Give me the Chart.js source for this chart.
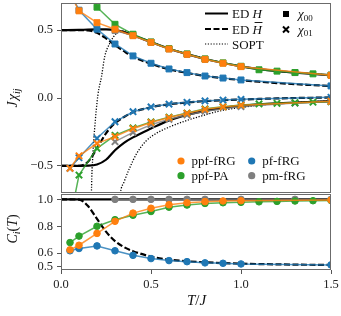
<!DOCTYPE html>
<html>
<head>
<meta charset="utf-8">
<script src="https://cdn.jsdelivr.net/npm/chart.js@4/dist/chart.umd.min.js"></script>
<style>
html, body { margin: 0; padding: 0; background: #fff; }
#top { position: absolute; left: 0; top: 0; width: 341px; height: 194px; }
#bot { position: absolute; left: 0; top: 193px; width: 341px; height: 123px; }
</style>
</head>
<body>
<div id="top"><canvas id="chiChart"></canvas></div>
<div id="bot"><canvas id="cChart"></canvas></div>
<script>
// temperatures of the fRG / PA runs
var tFull = [0.05, 0.1, 0.2, 0.3, 0.4, 0.5, 0.6, 0.7, 0.8, 0.9, 1.0, 1.1, 1.2, 1.3, 1.4, 1.5];
var tPart = [0.05, 0.1, 0.2, 0.3, 0.4, 0.5, 0.6, 0.7, 0.8, 0.9, 1.0, 1.5];
var tPm = [0.3, 0.4, 0.5, 0.6, 0.7, 0.8, 1.0, 1.3, 1.5];

// J chi_00
var ppfFrgChi00 = [0.77, 0.642, 0.555, 0.507, 0.459, 0.410, 0.361, 0.322, 0.285, 0.256, 0.231, 0.167];
var pfFrgChi00 = [0.78, 0.647, 0.507, 0.398, 0.310, 0.256, 0.214, 0.187, 0.162, 0.147, 0.133, 0.089];
var ppfPaChi00 = [1.4, 1.09, 0.669, 0.543, 0.470, 0.413, 0.364, 0.325, 0.288, 0.259, 0.234, 0.208, 0.198, 0.188, 0.178, 0.169];
var pmFrgChi00 = [0.498, 0.461, 0.411, 0.362, 0.322, 0.286, 0.232, 0.187, 0.168];

// J chi_01
var ppfFrgChi01 = [-0.518, -0.426, -0.334, -0.285, -0.226, -0.180, -0.144, -0.113, -0.083, -0.066, -0.053, -0.024];
var pfFrgChi01 = [-0.518, -0.440, -0.297, -0.175, -0.101, -0.066, -0.045, -0.032, -0.022, -0.015, -0.010, 0.005];
var ppfPaChi01 = [-0.9, -0.568, -0.371, -0.275, -0.220, -0.176, -0.141, -0.111, -0.080, -0.064, -0.051, -0.044, -0.039, -0.035, -0.031, -0.026];
var pmFrgChi01 = [-0.322, -0.253, -0.197, -0.157, -0.125, -0.097, -0.063, -0.037, -0.027];

// exact diagonalisation and second order perturbation theory
var tEd = [0, 0.1, 0.15, 0.2, 0.25, 0.3, 0.35, 0.4, 0.5, 0.6, 0.7, 0.8, 0.9, 1.0, 1.1, 1.2, 1.3, 1.4, 1.5];
var edHChi00 = [0.5, 0.502, 0.504, 0.505, 0.505, 0.5, 0.485, 0.462, 0.412, 0.363, 0.323, 0.287, 0.258, 0.233, 0.213, 0.198, 0.187, 0.177, 0.168];
var edHChi01 = [-0.5, -0.5, -0.499, -0.49, -0.455, -0.385, -0.33, -0.29, -0.225, -0.165, -0.125, -0.095, -0.073, -0.058, -0.047, -0.039, -0.033, -0.028, -0.024];
var edHbarChi00 = [0.5, 0.5, 0.498, 0.48, 0.44, 0.39, 0.345, 0.305, 0.252, 0.212, 0.185, 0.162, 0.146, 0.132, 0.12, 0.11, 0.102, 0.095, 0.088];
var edHbarChi01 = [-0.5, -0.5, -0.47, -0.37, -0.26, -0.185, -0.14, -0.105, -0.068, -0.046, -0.033, -0.023, -0.016, -0.011, -0.007, -0.003, 0.0, 0.002, 0.004];

var tSopt00 = [0.165, 0.169, 0.177, 0.187, 0.205, 0.225, 0.243, 0.271, 0.308, 0.34, 0.37, 0.4, 0.5, 0.6, 0.7, 0.8, 0.9, 1.0, 1.1, 1.2, 1.3, 1.4, 1.5];
var soptChi00 = [-1.2, -0.715, -0.42, -0.224, 0.022, 0.157, 0.305, 0.403, 0.477, 0.495, 0.49, 0.468, 0.415, 0.365, 0.325, 0.289, 0.259, 0.234, 0.214, 0.199, 0.188, 0.178, 0.169];
var tSopt01 = [0.32, 0.33, 0.35, 0.38, 0.42, 0.47, 0.53, 0.6, 0.7, 0.8, 0.9, 1.0, 1.1, 1.2, 1.3, 1.4, 1.5];
var soptChi01 = [-0.85, -0.70, -0.62, -0.52, -0.41, -0.32, -0.26, -0.215, -0.165, -0.125, -0.09, -0.07, -0.053, -0.042, -0.033, -0.027, -0.022];

// C_i(T)
var ppfFrgC = [0.625, 0.659, 0.747, 0.837, 0.898, 0.934, 0.960, 0.975, 0.983, 0.988, 0.990, 0.995];
var pfFrgC = [0.618, 0.635, 0.654, 0.618, 0.584, 0.560, 0.545, 0.537, 0.528, 0.525, 0.520, 0.513];
var ppfPaC = [0.679, 0.727, 0.800, 0.849, 0.882, 0.910, 0.942, 0.958, 0.970, 0.975, 0.978, 0.982, 0.985, 0.988, 0.990, 0.992];
var pmFrgC = [1, 1, 1, 1, 1, 1, 1, 1, 1];
var tEdC = [0, 0.1, 0.15, 0.2, 0.25, 0.3, 0.35, 0.4, 0.5, 0.6, 0.7, 0.8, 1.0, 1.2, 1.5];
var edHC = [1, 1, 1, 1, 1, 1, 1, 1, 1, 1, 1, 1, 1, 1, 1];
var edHbarC = [1.0, 0.998, 0.95, 0.855, 0.76, 0.69, 0.645, 0.615, 0.575, 0.552, 0.54, 0.532, 0.522, 0.517, 0.512];

var yTicksChi = [-0.5, 0, 0.5];
var yTicksC = [0.5, 0.6, 0.8, 1.0];
var xTicks = [0, 0.5, 1.0, 1.5];

var ORANGE = '#ff7f0e', BLUE = '#1f77b4', GREEN = '#2ca02c', GRAY = '#7f7f7f';
var SERIF = '"Liberation Serif", "DejaVu Serif", serif';

function pts(ts, vs) {
    return ts.map(function (t, i) { return { x: t, y: vs[i] }; });
}

function fade(hex) {
    var n = parseInt(hex.slice(1), 16);
    return 'rgba(' + (n >> 16) + ',' + ((n >> 8) & 255) + ',' + (n & 255) + ',0.8)';
}

function markSet(ts, vs, color, style, radius, order) {
    return {
        data: pts(ts, vs),
        borderColor: fade(color),
        borderWidth: 1.5,
        pointStyle: style,
        pointRadius: radius,
        pointBackgroundColor: color,
        pointBorderColor: color,
        pointBorderWidth: style === 'crossRot' ? 2 : 1,
        tension: 0,
        order: order
    };
}

function edSet(ts, vs, dash, width, order) {
    return {
        data: pts(ts, vs),
        borderColor: '#000',
        borderWidth: width,
        borderDash: dash,
        pointRadius: 0,
        cubicInterpolationMode: 'monotone',
        order: order
    };
}

function fmt(v) {
    var s = Math.abs(v).toFixed(1);
    return v < 0 ? '\u2212' + s : s;
}

var framePlugin = {
    id: 'frame',
    afterDatasetsDraw: function (chart) {
        var a = chart.chartArea, ctx = chart.ctx;
        ctx.save();
        ctx.strokeStyle = '#6b6b6b';
        ctx.lineWidth = 1;
        ctx.strokeRect(Math.round(a.left) + 0.5, Math.round(a.top) + 0.5,
                       Math.round(a.right - a.left) - 1, Math.round(a.bottom - a.top) - 1);
        ctx.restore();
    }
};

// writes a run of text pieces; each piece may be italic and/or a subscript
function runText(ctx, pieces, x, y) {
    pieces.forEach(function (p) {
        ctx.font = (p.it ? 'italic ' : '') + p.size + 'px ' + SERIF;
        ctx.fillText(p.t, x, y + (p.dy || 0));
        x += ctx.measureText(p.t).width + (p.gap || 0);
    });
    return x;
}

function runWidth(ctx, pieces) {
    var w = 0;
    pieces.forEach(function (p) {
        ctx.font = (p.it ? 'italic ' : '') + p.size + 'px ' + SERIF;
        w += ctx.measureText(p.t).width + (p.gap || 0);
    });
    return w;
}

function yTitle(ctx, pieces, x, yc) {
    ctx.save();
    ctx.translate(x, yc);
    ctx.rotate(-Math.PI / 2);
    ctx.fillStyle = '#111';
    ctx.textBaseline = 'alphabetic';
    runText(ctx, pieces, -runWidth(ctx, pieces) / 2, 0);
    ctx.restore();
}

var chiDecor = {
    id: 'chiDecor',
    afterDraw: function (chart) {
        var ctx = chart.ctx;
        yTitle(ctx, [{ t: 'J', it: true, size: 14, gap: 1 }, { t: '\u03c7', it: true, size: 14 },
                     { t: 'ij', it: true, size: 10, dy: 3 }], 17, 98);

        ctx.save();
        ctx.textBaseline = 'alphabetic';
        ctx.fillStyle = '#111';
        // line style legend
        var rows = [
            { y: 13.5, dash: [], w: 2, label: [{ t: 'ED ', size: 13 }, { t: 'H', it: true, size: 13 }] },
            { y: 29, dash: [6, 2.5], w: 2, label: [{ t: 'ED ', size: 13 }, { t: 'H', it: true, size: 13 }], bar: true },
            { y: 44, dash: [1.2, 1.6], w: 1.2, label: [{ t: 'SOPT', size: 13 }] }
        ];
        rows.forEach(function (r) {
            ctx.beginPath();
            ctx.setLineDash(r.dash);
            ctx.lineWidth = r.w;
            ctx.strokeStyle = '#000';
            ctx.moveTo(205, r.y);
            ctx.lineTo(228, r.y);
            ctx.stroke();
            ctx.setLineDash([]);
            var x0 = runText(ctx, r.label, 232, r.y + 4.5);
            if (r.bar) {
                ctx.font = 'italic 13px ' + SERIF;
                var hw = ctx.measureText('H').width;
                ctx.beginPath();
                ctx.lineWidth = 0.9;
                ctx.moveTo(x0 - hw + 2, r.y - 6.5);
                ctx.lineTo(x0 + 0.5, r.y - 6.5);
                ctx.stroke();
            }
        });
        // marker legend
        ctx.fillStyle = '#000';
        ctx.fillRect(283, 11, 6, 6);
        ctx.beginPath();
        ctx.lineWidth = 2;
        ctx.strokeStyle = '#000';
        ctx.moveTo(283, 26.5); ctx.lineTo(289, 32.5);
        ctx.moveTo(289, 26.5); ctx.lineTo(283, 32.5);
        ctx.stroke();
        ctx.fillStyle = '#111';
        runText(ctx, [{ t: '\u03c7', it: true, size: 13 }, { t: '00', size: 9, dy: 2.5 }], 298, 18);
        runText(ctx, [{ t: '\u03c7', it: true, size: 13 }, { t: '01', size: 9, dy: 2.5 }], 298, 33.5);

        // method legend
        var methods = [
            { c: ORANGE, x: 181, y: 161, t: 'ppf-fRG' },
            { c: BLUE, x: 251.7, y: 161, t: 'pf-fRG' },
            { c: GREEN, x: 181, y: 175.7, t: 'ppf-PA' },
            { c: GRAY, x: 251.7, y: 175.7, t: 'pm-fRG' }
        ];
        methods.forEach(function (m) {
            ctx.beginPath();
            ctx.fillStyle = m.c;
            ctx.arc(m.x, m.y, 3.6, 0, Math.PI * 2);
            ctx.fill();
            ctx.fillStyle = '#111';
            runText(ctx, [{ t: m.t, size: 13 }], m.x + 10.5, m.y + 4.3);
        });
        ctx.restore();
    }
};

var cDecor = {
    id: 'cDecor',
    afterDraw: function (chart) {
        var ctx = chart.ctx;
        yTitle(ctx, [{ t: 'C', it: true, size: 14 }, { t: 'i', it: true, size: 10, dy: 3 },
                     { t: '(', size: 14 }, { t: 'T', it: true, size: 14 }, { t: ')', size: 14 }], 17, 36);
        ctx.save();
        ctx.fillStyle = '#111';
        ctx.textBaseline = 'alphabetic';
        var pieces = [{ t: 'T', it: true, size: 15 }, { t: '/', size: 15 }, { t: 'J', it: true, size: 15 }];
        runText(ctx, pieces, 196.5 - runWidth(ctx, pieces) / 2, 112);
        ctx.restore();
    }
};

var tickFont = { family: SERIF, size: 12.5 };

function yAxis(min, max, ticks) {
    return {
        min: min,
        max: max,
        afterFit: function (s) { s.width = 61; s.paddingTop = 0; s.paddingBottom = 0; },
        afterBuildTicks: function (s) { s.ticks = ticks.map(function (v) { return { value: v }; }); },
        ticks: { callback: function (v) { return fmt(v); }, font: tickFont, color: '#222', padding: 4 },
        grid: { drawOnChartArea: false, tickLength: 4, color: '#555', tickWidth: 1 },
        border: { display: false }
    };
}

var commonPlugins = { legend: { display: false }, tooltip: { enabled: false } };

new Chart(document.getElementById('chiChart').getContext('2d'), {
    type: 'line',
    data: {
        datasets: [
            markSet(tPart, ppfFrgChi00, ORANGE, 'rect', 4.2, 1),
            markSet(tPart, ppfFrgChi01, ORANGE, 'crossRot', 4.5, 1),
            markSet(tPart, pfFrgChi00, BLUE, 'rect', 4.2, 2),
            markSet(tPart, pfFrgChi01, BLUE, 'crossRot', 4.5, 2),
            markSet(tFull, ppfPaChi00, GREEN, 'rect', 4.2, 3),
            markSet(tFull, ppfPaChi01, GREEN, 'crossRot', 4.5, 3),
            markSet(tPm, pmFrgChi00, GRAY, 'rect', 4.2, 4),
            markSet(tPm, pmFrgChi01, GRAY, 'crossRot', 4.5, 4),
            edSet(tEd, edHbarChi00, [6, 2.5], 2.2, 5),
            edSet(tEd, edHbarChi01, [6, 2.5], 2.2, 5),
            edSet(tEd, edHChi00, [], 2.2, 6),
            edSet(tEd, edHChi01, [], 2.2, 6),
            edSet(tSopt00, soptChi00, [1.2, 1.6], 1.3, 7),
            edSet(tSopt01, soptChi01, [1.2, 1.6], 1.3, 7)
        ]
    },
    options: {
        responsive: true,
        maintainAspectRatio: false,
        animation: false,
        layout: { autoPadding: false, padding: { top: 3, right: 10, bottom: 1, left: 0 } },
        plugins: commonPlugins,
        scales: {
            x: { type: 'linear', min: 0, max: 1.5, display: false },
            y: yAxis(-0.7, 0.7, yTicksChi)
        }
    },
    plugins: [framePlugin, chiDecor]
});

var xBottom = {
    type: 'linear',
    min: 0,
    max: 1.5,
    afterFit: function (s) { s.height = 46; s.paddingLeft = 0; s.paddingRight = 0; },
    afterBuildTicks: function (s) { s.ticks = xTicks.map(function (v) { return { value: v }; }); },
    ticks: { callback: function (v) { return fmt(v); }, font: tickFont, color: '#222', padding: 3, maxRotation: 0 },
    grid: { drawOnChartArea: false, tickLength: 4, color: '#555' },
    border: { display: false }
};

new Chart(document.getElementById('cChart').getContext('2d'), {
    type: 'line',
    data: {
        datasets: [
            markSet(tPart, ppfFrgC, ORANGE, 'circle', 3.3, 1),
            markSet(tPart, pfFrgC, BLUE, 'circle', 3.3, 2),
            markSet(tFull, ppfPaC, GREEN, 'circle', 3.3, 3),
            markSet(tPm, pmFrgC, GRAY, 'circle', 3.3, 4),
            edSet(tEdC, edHbarC, [6, 2.5], 2.2, 5),
            edSet(tEdC, edHC, [], 2.2, 6)
        ]
    },
    options: {
        responsive: true,
        maintainAspectRatio: false,
        animation: false,
        layout: { autoPadding: false, padding: { top: 1, right: 10, bottom: 0, left: 0 } },
        plugins: commonPlugins,
        scales: {
            x: xBottom,
            y: yAxis(0.475, 1.04, yTicksC)
        }
    },
    plugins: [framePlugin, cDecor]
});
</script>
</body>
</html>
